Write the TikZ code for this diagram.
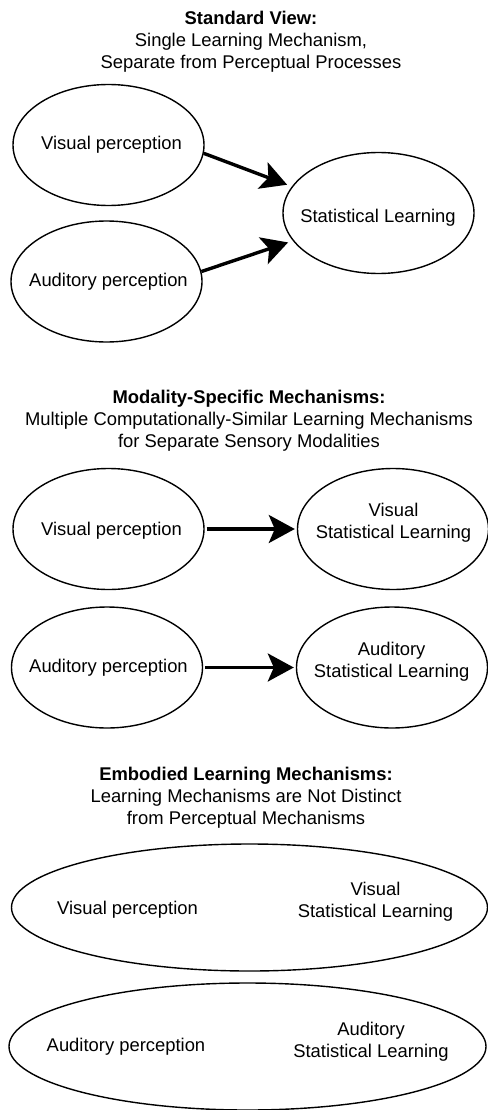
\documentclass[tikz,border=0pt]{standalone}
\usepackage{fontspec}
\setmainfont{Liberation Sans}
\usetikzlibrary{shapes.geometric,arrows.meta}

\begin{document}
\begin{tikzpicture}[x=1pt, y=-1pt,
  every node/.style={font=\fontsize{18.4}{22}\selectfont, inner sep=0pt, align=center},
  oval/.style={ellipse, draw, line width=1.4pt, minimum width=191pt, minimum height=121pt},
  wideoval/.style={ellipse, draw, line width=1.4pt, minimum width=476pt, minimum height=127pt},
  flow/.style={-{Stealth[length=26pt, width=28pt, inset=6pt]}, line width=3.4pt}]
\useasboundingbox (0,0) rectangle (487,1110);

\node (title1) at (251,41.3) {\textbf{Standard View:}\\Single Learning Mechanism,\\Separate from Perceptual Processes};
\node[oval] (vis1) at (108.5,145) {};
\node[oval] (aud1) at (106.5,281.5) {};
\node[oval] (stat1) at (378.5,213) {};
\node (vis1txt) at (111.5,144.7) {Visual perception};
\node (aud1txt) at (108.5,282) {Auditory perception};
\node (stat1txt) at (378,218) {Statistical Learning};
\draw[flow, shorten >=5pt] (vis1.-5) -- (stat1.163);
\draw[flow, shorten >=5pt] (aud1.6) -- (stat1.198);

\node (title2) at (249,420.6) {\textbf{Modality-Specific Mechanisms:}\\Multiple Computationally-Similar Learning Mechanisms\\for Separate Sensory Modalities};
\node[oval] (vis2) at (108.5,529) {};
\node[oval] (vsl2) at (393,529) {};
\node[oval] (aud2) at (107,667.5) {};
\node[oval] (asl2) at (392,667.5) {};
\node (vis2txt) at (111.5,530.4) {Visual perception};
\node (vsl2txt) at (393.5,522.5) {Visual\\Statistical Learning};
\node (aud2txt) at (108.5,668) {Auditory perception};
\node (asl2txt) at (391.7,662) {Auditory\\Statistical Learning};
\draw[flow, shorten <=2pt, shorten >=2pt] (vis2) -- (vsl2);
\draw[flow, shorten <=2pt, shorten >=2pt] (aud2) -- (asl2);

\node (title3) at (246,797.3) {\textbf{Embodied Learning Mechanisms:}\\Learning Mechanisms are Not Distinct\\from Perceptual Mechanisms};
\node[wideoval] (vis3) at (249.5,907.5) {};
\node[wideoval, minimum width=477pt] (aud3) at (247.5,1046.5) {};
\node (vis3txt) at (127.5,909.7) {Visual perception};
\node (vsl3txt) at (375.5,901.5) {Visual\\Statistical Learning};
\node (aud3txt) at (126,1047) {Auditory perception};
\node (asl3txt) at (371,1041.9) {Auditory\\Statistical Learning};
\end{tikzpicture}
\end{document}
